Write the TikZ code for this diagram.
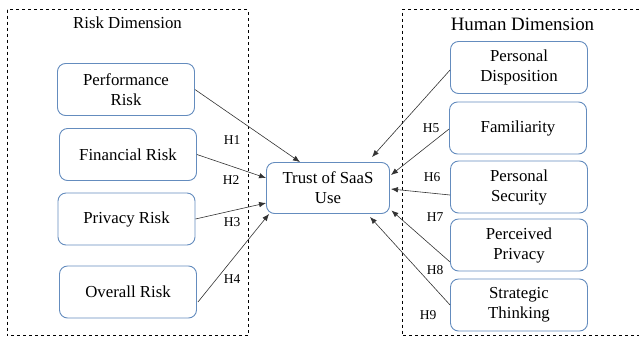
\documentclass[tikz,border=0pt]{standalone}
\usepackage{fontspec}
\setmainfont{Liberation Serif}[Ligatures=TeX]
\usetikzlibrary{arrows.meta,calc}
\definecolor{boxline}{RGB}{100,140,190}
\definecolor{arrowline}{RGB}{50,50,50}
\tikzset{
  factor/.style={draw=boxline, line width=0.9pt, rounded corners=8pt, align=center,
    minimum width=137pt, minimum height=52pt, inner sep=0pt,
    font=\rmfamily\fontsize{16.8}{20}\selectfont},
  trustbox/.style={factor, minimum width=123pt, minimum height=51pt},
  region/.style={draw=black, dashed, line width=0.6pt},
  link/.style={draw=arrowline, line width=0.6pt, -{Latex[length=7pt,width=5.5pt]}},
  hyp/.style={font=\rmfamily\fontsize{13.5}{15}\selectfont, inner sep=0pt},
}
\begin{document}
\begin{tikzpicture}[x=1pt,y=-1pt]
\useasboundingbox (0,0) rectangle (639,338);
% dimension frames
\draw[region] (7,9.5) rectangle (248,335.5);
\draw[region] (645,9.5) -- (402,9.5) -- (402,335.5) -- (645,335.5);
\node[font=\rmfamily\fontsize{16.8}{20}\selectfont] (riskdim) at (127.5,23) {Risk Dimension};
\node[font=\rmfamily\fontsize{18.9}{22}\selectfont] (humandim) at (522.5,24) {Human Dimension};
% risk factors
\node[factor] (perf) at (126,89.5) {Performance\\Risk};
\node[factor] (fin) at (128,154.5) {Financial Risk};
\node[factor] (priv) at (126.5,219) {Privacy Risk};
\node[factor] (over) at (128,292) {Overall Risk};
% outcome
\node[trustbox] (trust) at (328,188) {Trust of SaaS\\Use};
% human factors
\node[factor] (disp) at (519,67.5) {Personal\\Disposition};
\node[factor] (fam) at (518,128) {Familiarity};
\node[factor] (sec) at (519,187) {Personal\\Security};
\node[factor] (pp) at (519,245) {Perceived\\Privacy};
\node[factor] (strat) at (519,305) {Strategic\\Thinking};
% hypothesised paths (offsets in picture units, y downwards)
\draw[link] (perf.east) -- ($(trust.north)+(-28,0)$);
\draw[link] (fin.east) -- ($(trust.west)+(0,-10)$);
\draw[link] (priv.east) -- ($(trust.west)+(0,15)$);
\draw[link] ($(over.east)+(1,10)$) -- ($(trust.south west)+(3,0)$);
\draw[link] ($(disp.west)+(0,2.5)$) -- ($(trust.north)+(44,-5)$);
\draw[link] ($(fam.west)+(0,1)$) -- ($(trust.east)+(1,-13)$);
\draw[link] ($(sec.west)+(0,8)$) -- ($(trust.east)+(1,1)$);
\draw[link] ($(pp.west)+(0,17)$) -- ($(trust.south east)+(1.5,-3.5)$);
\draw[link] (strat.west) -- ($(trust.south)+(42,3)$);
% path labels
\node[hyp] (h1) at (232,140) {H1};
\node[hyp] (h2) at (231,180) {H2};
\node[hyp] (h3) at (232,222) {H3};
\node[hyp] (h4) at (232,279) {H4};
\node[hyp] (h5) at (431,128) {H5};
\node[hyp] (h6) at (432,177) {H6};
\node[hyp] (h7) at (435,217) {H7};
\node[hyp] (h8) at (435,270) {H8};
\node[hyp] (h9) at (428,315) {H9};
\end{tikzpicture}
\end{document}
